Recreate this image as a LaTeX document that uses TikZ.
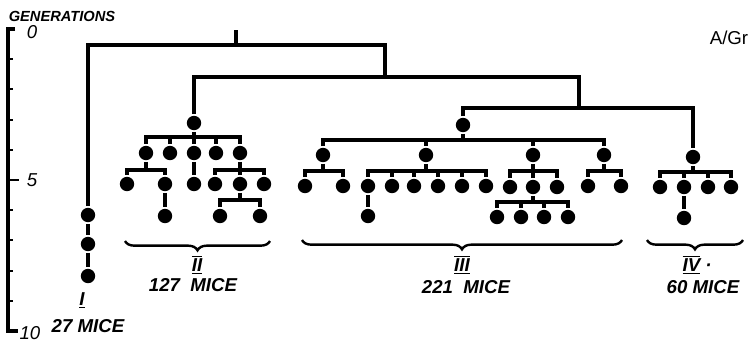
\documentclass[tikz,border=0pt]{standalone}
\usepackage{fontspec}
\setmainfont{Liberation Sans}
\usetikzlibrary{decorations.pathreplacing}
\newcommand{\famline}[5]{%
  \coordinate (bar) at (0,#2);
  \draw (#1) -- (#1 |- bar);
  \draw (#3) |- (#4 |- bar) -- (#4);
  \foreach \m in {#5} {\draw (\m) -- (\m |- bar);}
}
\begin{document}
\begin{tikzpicture}[x=0.75pt,y=-0.75pt,line width=2.4pt,
  dot/.style={circle,fill=black,inner sep=0pt,minimum size=10.8pt},
  lbl/.style={font=\fontsize{14}{16}\selectfont\bfseries\itshape,inner sep=0pt},
  num/.style={font=\fontsize{14}{16}\selectfont\itshape,inner sep=0pt},
  bracestyle/.style={line width=1.8pt,decorate,decoration={brace,amplitude=7pt}}]
\useasboundingbox (0,0) rectangle (750,343);

% axis
\draw[line width=3pt] (15,29) -- (8,29) -- (8,331) -- (18,331);
\foreach \k in {1,...,9} \draw[line width=1.6pt] (8,29+30.2*\k) -- (13,29+30.2*\k);
\draw[line width=1.6pt] (8,180) -- (19,180);
\node[font=\fontsize{11}{13}\selectfont\bfseries\itshape,inner sep=0pt] (gen) at (62,16) {GENERATIONS};
\node[num] (n0) at (32,32) {0};
\node[num] (n5) at (32,180) {5};
\node[num] (n10) at (30,333) {10};
\node[font=\fontsize{14}{16}\selectfont,inner sep=0pt] (ag) at (729,38) {A/Gr};

% nodes: lineage I
\node[dot] (I1) at (88,215) {};
\node[dot] (I2) at (88,244) {};
\node[dot] (I3) at (88,276) {};
% II
\node[dot] (IIr) at (194,123) {};
\node[dot] (a1) at (146,153) {};
\node[dot] (a2) at (170,153) {};
\node[dot] (a3) at (194,153) {};
\node[dot] (a4) at (216,153) {};
\node[dot] (a5) at (240,153) {};
\node[dot] (b1) at (127,184) {};
\node[dot] (b2) at (165,184) {};
\node[dot] (b3) at (194,184) {};
\node[dot] (b4) at (215,184) {};
\node[dot] (b5) at (240,184) {};
\node[dot] (b6) at (264,184) {};
\node[dot] (c1) at (165,216) {};
\node[dot] (c2) at (220,216) {};
\node[dot] (c3) at (260,216) {};
% III
\node[dot] (IIIr) at (463,125) {};
\node[dot] (d1) at (323,155) {};
\node[dot] (d2) at (426,155) {};
\node[dot] (d3) at (533,155) {};
\node[dot] (d4) at (604,155) {};
\node[dot] (e1) at (305,186) {};
\node[dot] (e2) at (343,186) {};
\node[dot] (e3) at (368,186) {};
\node[dot] (e4) at (392,186) {};
\node[dot] (e5) at (414,186) {};
\node[dot] (e6) at (438,186) {};
\node[dot] (e7) at (462,186) {};
\node[dot] (e8) at (486,186) {};
\node[dot] (e9) at (510,187) {};
\node[dot] (e10) at (533,187) {};
\node[dot] (e11) at (557,187) {};
\node[dot] (e12) at (588,186) {};
\node[dot] (e13) at (621,186) {};
\node[dot] (f1) at (368,216) {};
\node[dot] (f2) at (497,217) {};
\node[dot] (f3) at (521,217) {};
\node[dot] (f4) at (544,217) {};
\node[dot] (f5) at (568,217) {};
% IV
\node[dot] (IVr) at (693,157) {};
\node[dot] (g1) at (660,187) {};
\node[dot] (g2) at (684,187) {};
\node[dot] (g3) at (708,187) {};
\node[dot] (g4) at (731,187) {};
\node[dot] (h1) at (684,218) {};

% top-level connectors
\coordinate (r0) at (236,30);
\coordinate (j1) at (385,45);
\coordinate (j2) at (385,77);
\coordinate (j3) at (579,77);
\coordinate (j4) at (579,108);
\draw (r0) -- (r0 |- j1);
\draw (I1) |- (j1) -- (j2);
\draw (IIr) |- (j3) -- (j4);
\draw (IIIr) |- (IVr |- j4) -- (IVr);
\draw (I1) -- (I2);
\draw (I2) -- (I3);

% II
\famline{IIr}{137}{a1}{a5}{a2,a3,a4}
\famline{a1}{170}{b1}{b2}{a1}
\draw (b2) -- (c1);
\draw (a3) -- (b3);
\famline{a5}{170}{b4}{b6}{b5}
\famline{b5}{200}{c2}{c3}{b5}
% III
\famline{IIIr}{140}{d1}{d4}{d2,d3}
\famline{d1}{171}{e1}{e2}{d1}
\famline{d2}{171}{e3}{e8}{e4,e5,e6,e7}
\draw (e3) -- (f1);
\famline{d3}{171}{e9}{e11}{e10}
\famline{e10}{202}{f2}{f5}{f3,f4}
\famline{d4}{171}{e12}{e13}{d4}
% IV
\famline{IVr}{172}{g1}{g4}{g2,g3}
\draw (g2) -- (h1);

% braces
\coordinate (brIIa) at (125,241);
\coordinate (brIIb) at (270,241);
\coordinate (brIIIa) at (302,240);
\coordinate (brIIIb) at (622,240);
\coordinate (brIVa) at (647,240);
\coordinate (brIVb) at (743,240);
\draw[bracestyle] (brIIb) -- (brIIa);
\draw[bracestyle] (brIIIb) -- (brIIIa);
\draw[bracestyle] (brIVb) -- (brIVa);

% labels
\node[lbl] (lI) at (82,300) {\underline{I}};
\node[lbl] (mI) at (88,326) {27 MICE};
\node[lbl] (lII) at (197,265) {$\underline{\overline{\hbox{\bfseries\itshape II}}}$};
\node[lbl] (mII) at (193,285) {127\ \ MICE};
\node[lbl] (lIII) at (462,265) {$\underline{\overline{\hbox{\bfseries\itshape III}}}$};
\node[lbl] (mIII) at (466,287) {221\ \ MICE};
\node[lbl,anchor=west] (lIV) at (681,265) {$\underline{\overline{\hbox{\bfseries\itshape IV}}}$\ ·};
\node[lbl] (mIV) at (703,287) {60 MICE};
\end{tikzpicture}
\end{document}
